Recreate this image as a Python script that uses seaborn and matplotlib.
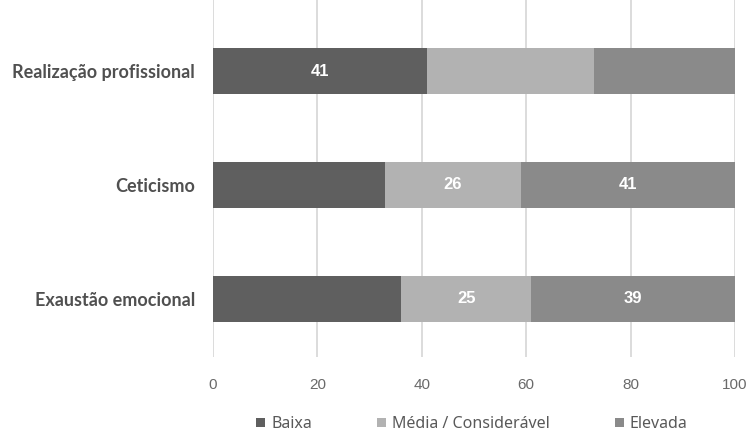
import matplotlib
matplotlib.use("Agg")
import matplotlib.pyplot as plt
import seaborn as sns
import pandas as pd
import numpy as np
from matplotlib.patches import Patch

categories = ["Realização profissional", "Ceticismo", "Exaustão emocional"]
series = ["Baixa", "Média / Considerável", "Elevada"]
baixa = [41, 33, 36]
media = [32, 26, 25]
elevada = [27, 41, 39]
show_label = {
    "Baixa": [True, False, False],
    "Média / Considerável": [False, True, True],
    "Elevada": [False, True, True],
}
colors = ["#5f5f5f", "#b2b2b2", "#8a8a8a"]
xticks = [0, 20, 40, 60, 80, 100]

sns.set_theme(style="white")
plt.rcParams['font.family'] = ['Noto Sans', 'DejaVu Sans']

fig = plt.figure(figsize=(7.52, 4.32), dpi=100)
ax = fig.add_axes([213/752, (432-357)/432, (735-213)/752, 357/432])

vals = [baixa, media, elevada]
cum = np.cumsum(np.array(vals), axis=0)
df = pd.DataFrame({"cat": categories})
# draw from the total down so that each layer overlays the previous
for i in reversed(range(3)):
    df["v"] = cum[i]
    sns.barplot(data=df, y="cat", x="v", orient="h", color=colors[i],
                width=0.4, ax=ax, saturation=1, linewidth=0, zorder=3)

for i, name in enumerate(series):
    for j in range(3):
        if show_label[name][j]:
            start = cum[i][j] - vals[i][j]
            ax.text(start + vals[i][j] / 2, j, str(vals[i][j]), ha="center", va="center",
                    color="white", fontsize=12, fontweight="bold",
                    family=["Liberation Sans", "DejaVu Sans"], zorder=5)

ax.set_xlim(0, 100)
ax.set_ylim(2.509, -0.623)
ax.set_xticks(xticks, [str(t) for t in xticks],
              family=["Liberation Sans", "DejaVu Sans"], fontsize=11, color="#6a6a6a")
ax.set_yticks(range(len(categories)), categories, fontweight="bold",
              fontsize=13, color="#505050", family=["Lato", "DejaVu Sans"])
ax.xaxis.grid(True, color="#d9d9d9", linewidth=1.3, zorder=0)
ax.set_axisbelow(True)
for s in ax.spines.values():
    s.set_visible(False)
ax.set_xlabel("")
ax.set_ylabel("")
ax.tick_params(axis="x", length=0, pad=15)
ax.tick_params(axis="y", length=0, pad=13)

handles = [Patch(facecolor=c, edgecolor="none") for c in colors]
fig.legend(handles, series, loc="center", bbox_to_anchor=(472/752, (432-424)/432),
           ncol=3, frameon=False, fontsize=11.5, handlelength=0.55, handleheight=0.55,
           handletextpad=0.37, columnspacing=4.1, labelcolor="#595959",
           borderpad=0, borderaxespad=0)

fig.savefig("out.png", dpi=100)
